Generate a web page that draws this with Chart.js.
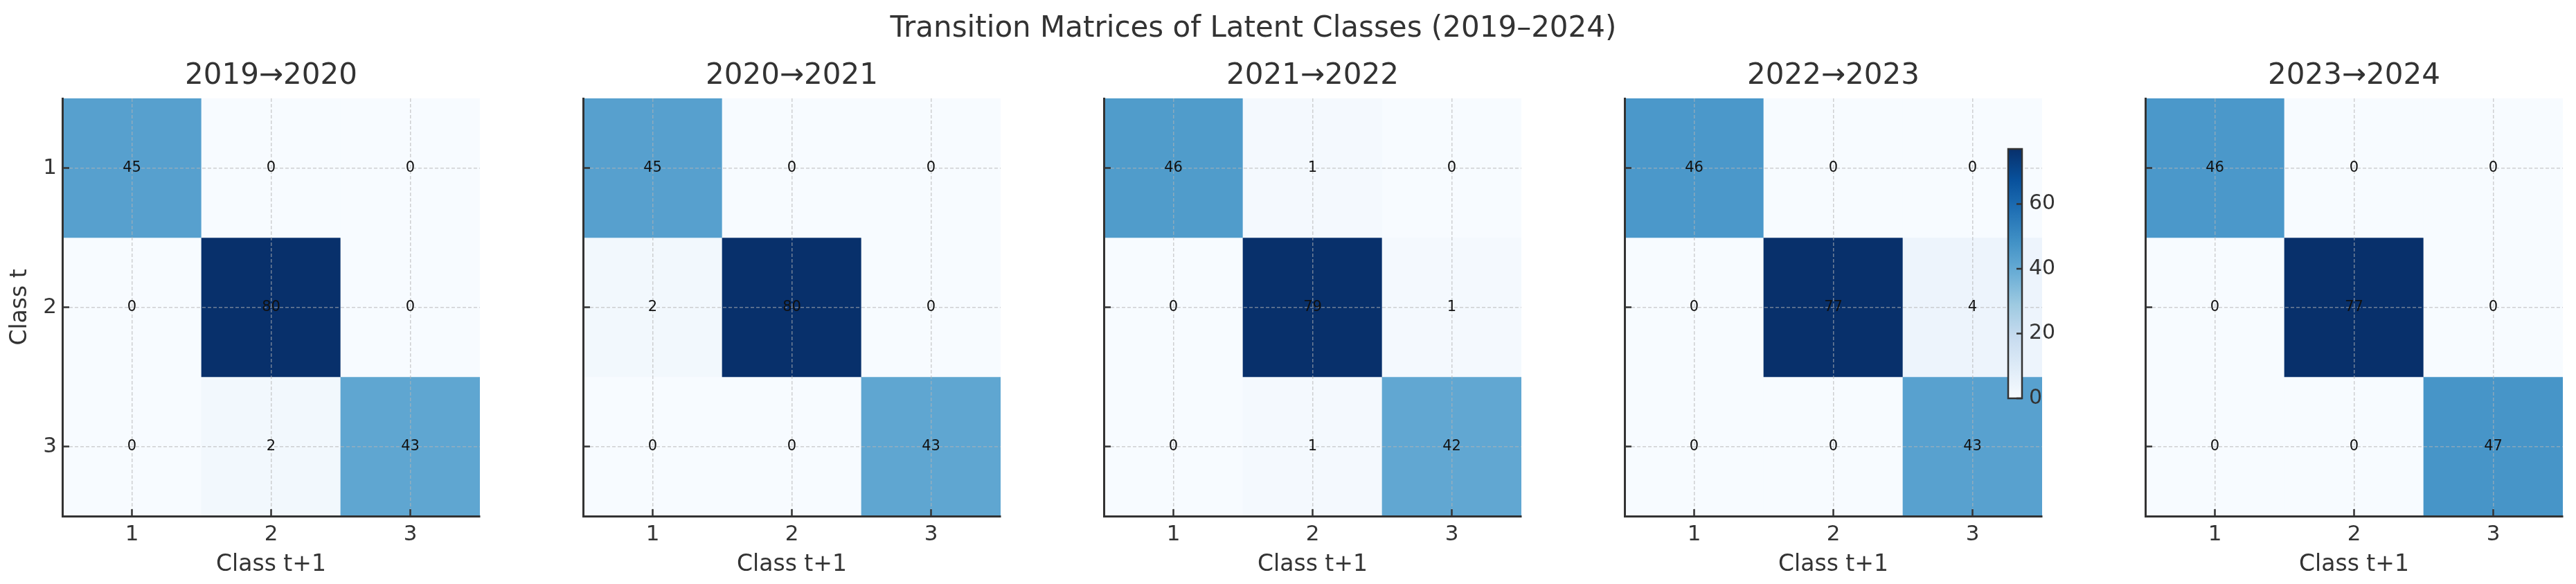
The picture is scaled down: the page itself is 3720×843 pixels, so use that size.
<!DOCTYPE html>
<html>
<head>
<meta charset="utf-8">
<script src="https://cdn.jsdelivr.net/npm/chart.js@4.4.1/dist/chart.umd.min.js"></script>
<style>
  body { margin: 0; background: #fff; }
  #wrap { position: relative; width: 3720px; height: 843px; }
  #wrap canvas { position: absolute; left: 0; top: 0; }
</style>
</head>
<body>
<div id="wrap">
  <canvas id="c0" width="3720" height="843"></canvas>
  <canvas id="c1" width="3720" height="843"></canvas>
  <canvas id="c2" width="3720" height="843"></canvas>
  <canvas id="c3" width="3720" height="843"></canvas>
  <canvas id="c4" width="3720" height="843"></canvas>
</div>
<script>
const classes = ['1', '2', '3'];
const periods = ['2019→2020', '2020→2021', '2021→2022', '2022→2023', '2023→2024'];
// rows = class t, columns = class t+1
const m1920 = [[45, 0, 0], [0, 80, 0], [0, 2, 43]];
const m2021 = [[45, 0, 0], [2, 80, 0], [0, 0, 43]];
const m2122 = [[46, 1, 0], [0, 79, 1], [0, 1, 42]];
const m2223 = [[46, 0, 0], [0, 77, 4], [0, 0, 43]];
const m2324 = [[46, 0, 0], [0, 77, 0], [0, 0, 47]];
const matrices = [m1920, m2021, m2122, m2223, m2324];
const colorbarTicks = [0, 20, 40, 60];
const colorbarPanel = 3;
const suptitle = 'Transition Matrices of Latent Classes (2019–2024)';

const FONT = '"DejaVu Sans", sans-serif';
const INK = '#333';

// matplotlib "Blues"
const BLUES = [[247,251,255],[222,235,247],[198,219,239],[158,202,225],[107,174,214],
               [66,146,198],[33,113,181],[8,81,156],[8,48,107]];
function blues(t) {
  t = Math.max(0, Math.min(1, t));
  const p = t * (BLUES.length - 1);
  const i = Math.min(Math.floor(p), BLUES.length - 2);
  const f = p - i;
  const c = BLUES[i].map((v, k) => Math.round(v + (BLUES[i + 1][k] - v) * f));
  return 'rgb(' + c.join(',') + ')';
}

const heatExtras = {
  id: 'heatExtras',
  afterDraw(chart, args, opts) {
    const ctx = chart.ctx;
    const area = chart.chartArea;
    const xs = chart.scales.x, ys = chart.scales.y;
    ctx.save();

    // inward tick marks
    ctx.strokeStyle = INK;
    ctx.lineWidth = 2.5;
    xs.ticks.forEach((t, i) => {
      const px = xs.getPixelForTick(i);
      ctx.beginPath(); ctx.moveTo(px, area.bottom); ctx.lineTo(px, area.bottom - 10); ctx.stroke();
    });
    ys.ticks.forEach((t, i) => {
      const py = ys.getPixelForTick(i);
      ctx.beginPath(); ctx.moveTo(area.left, py); ctx.lineTo(area.left + 10, py); ctx.stroke();
    });

    // counts in the cells
    ctx.fillStyle = '#111';
    ctx.font = '21px ' + FONT;
    ctx.textAlign = 'center';
    ctx.textBaseline = 'middle';
    chart.data.datasets.forEach((ds, r) => {
      chart.getDatasetMeta(r).data.forEach((bar, c) => {
        ctx.fillText(String(ds.counts[c]), bar.x, (bar.y + bar.base) / 2);
      });
    });

    // colorbar
    if (opts.colorbar) {
      const vmax = opts.colorbar;
      const bx = area.right - 49, bw = 20, top = area.top + 73, bottom = area.top + 433;
      const g = ctx.createLinearGradient(0, bottom, 0, top);
      BLUES.forEach((c, k) => g.addColorStop(k / (BLUES.length - 1), 'rgb(' + c.join(',') + ')'));
      ctx.fillStyle = g;
      ctx.fillRect(bx, top, bw, bottom - top);
      ctx.strokeStyle = INK;
      ctx.lineWidth = 2.5;
      ctx.strokeRect(bx, top, bw, bottom - top);
      ctx.fillStyle = INK;
      ctx.font = '30px ' + FONT;
      ctx.textAlign = 'left';
      colorbarTicks.forEach(v => {
        const py = bottom - v / vmax * (bottom - top);
        ctx.beginPath(); ctx.moveTo(bx + bw, py); ctx.lineTo(bx + bw - 8, py); ctx.stroke();
        ctx.fillText(String(v), bx + bw + 10, py);
      });
    }

    // figure title
    if (opts.suptitle) {
      ctx.fillStyle = INK;
      ctx.font = '42px ' + FONT;
      ctx.textAlign = 'center';
      ctx.textBaseline = 'alphabetic';
      ctx.fillText(opts.suptitle, 1810, 53);
    }
    ctx.restore();
  }
};

const gridColor = 'rgba(180,180,180,0.6)';

matrices.forEach((m, i) => {
  const vmax = Math.max(...m.flat());
  const left = 90 + 752 * i;
  const yWidth = i === 0 ? 80 : 10;
  new Chart(document.getElementById('c' + i), {
    type: 'bar',
    data: {
      labels: classes,
      datasets: m.map((row, r) => ({
        label: 'Class t = ' + classes[r],
        data: row.map(() => [r + 0.5, r + 1.5]),
        counts: row,
        backgroundColor: row.map(v => blues(v / vmax)),
        grouped: false,
        barPercentage: 1,
        categoryPercentage: 1,
        borderWidth: 0
      }))
    },
    options: {
      responsive: false,
      animation: false,
      layout: { padding: { left: left - yWidth, right: 3720 - left - 603, top: 84.8, bottom: 8.2 } },
      plugins: {
        legend: { display: false },
        tooltip: { enabled: false },
        title: {
          display: true, text: periods[i], fullSize: false, color: INK,
          font: { family: FONT, size: 42, weight: 'normal' },
          padding: { top: 0, bottom: 6.8 }
        },
        heatExtras: { colorbar: i === colorbarPanel ? vmax : 0, suptitle: i === 0 ? suptitle : '' }
      },
      scales: {
        x: {
          type: 'category',
          offset: true,
          grid: { offset: false, drawTicks: false, color: gridColor, lineWidth: 1.5, z: 1 },
          border: { display: true, color: INK, width: 3, dash: [5, 3], z: 1 },
          ticks: { color: INK, font: { family: FONT, size: 31 }, padding: 8 },
          title: { display: true, text: 'Class t+1', color: INK, font: { family: FONT, size: 33 }, padding: 0 },
          afterFit: s => { s.height = 89.8; }
        },
        y: {
          type: 'linear',
          min: 0.5,
          max: 3.5,
          reverse: true,
          afterBuildTicks: s => { s.ticks = classes.map((c, k) => ({ value: k + 1 })); },
          grid: { drawTicks: false, color: gridColor, lineWidth: 1.5, z: 1 },
          border: { display: true, color: INK, width: 3, dash: [5, 3], z: 1 },
          ticks: { display: i === 0, color: INK, font: { family: FONT, size: 31 }, padding: 8 },
          title: { display: i === 0, text: 'Class t', color: INK, font: { family: FONT, size: 33 }, padding: 0 },
          afterFit: s => { s.width = yWidth; }
        }
      }
    },
    plugins: [heatExtras]
  });
});
</script>
</body>
</html>
